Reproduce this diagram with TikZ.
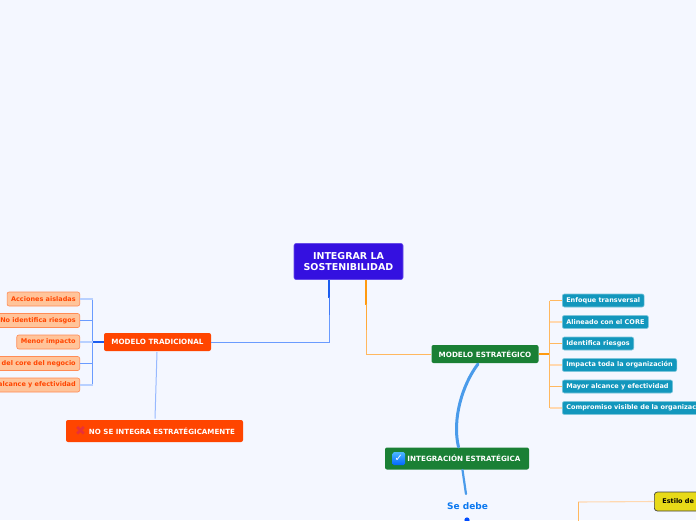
\documentclass[tikz,border=0pt]{standalone}
\usepackage{fontspec}
\setmainfont{DejaVu Sans}
\definecolor{bgc}{HTML}{F4F7FF}
\definecolor{rootc}{HTML}{3410E0}
\definecolor{redc}{HTML}{FF4500}
\definecolor{greenc}{HTML}{1A8035}
\definecolor{tealc}{HTML}{1297BD}
\definecolor{peach}{HTML}{FFC49A}
\definecolor{blued}{HTML}{1A5CF0}
\definecolor{bluem}{HTML}{6A9BFF}
\definecolor{bluel}{HTML}{B8D0FF}
\definecolor{orgd}{HTML}{FF9A10}
\definecolor{orgm}{HTML}{FFB860}
\definecolor{orgl}{HTML}{FFD8B0}
\definecolor{curvec}{HTML}{4A9BEA}
\definecolor{yel}{HTML}{E8DA18}
\definecolor{sedebe}{HTML}{0A78F0}
\definecolor{xmark}{HTML}{E8303A}
\tikzset{
  x=1pt,y=-1pt,
  txt/.style={font=\bfseries\fontsize{#1}{#1}\selectfont},
  box/.style={rounded corners=2pt,inner sep=0pt,minimum height=#1},
  rootbox/.style={box=36pt,fill=rootc,draw=rootc!75!white,line width=.6pt,text=white,minimum width=109pt,align=center,font=\bfseries\fontsize{9.5}{11.5}\selectfont},
  mainred/.style={box=18pt,fill=redc,text=white,txt=7.2},
  maingreen/.style={box=18pt,fill=greenc,text=white,txt=7.2},
  leftleaf/.style={box=14pt,fill=peach,draw=redc!45!peach,line width=.6pt,text=redc,txt=6.5,anchor=east,inner xsep=4pt},
  rightleaf/.style={box=13pt,fill=tealc,draw=tealc!55!white,line width=.6pt,text=white,txt=6.5,anchor=west,inner xsep=4pt},
  linkm/.style={line width=.8pt,draw=#1},
  linkd/.style={line width=1.1pt,draw=#1},
  wide/.style={line width=#1,draw=curvec,line cap=round}
}
\begin{document}
\begin{tikzpicture}
\clip (0,0) rectangle (696,520);
\fill[bgc] (0,0) rectangle (696,520);
% nodes
\node[rootbox] (root) at (348.5,261.5) {INTEGRAR LA\\SOSTENIBILIDAD};
\node[mainred,minimum width=107pt] (mt) at (157.5,342) {MODELO TRADICIONAL};
\node[maingreen,minimum width=107pt] (me) at (485,354) {MODELO ESTRATÉGICO};
\node[box=22pt,fill=redc,text=white,txt=7.1,minimum width=177pt] (ns) at (154.5,431) {\hspace{15pt}NO SE INTEGRA ESTRATÉGICAMENTE};
\node[box=22pt,fill=greenc,text=white,txt=7.2,minimum width=144pt] (ie) at (457,458.5) {\hspace{14pt}INTEGRACIÓN ESTRATÉGICA};
\node[text=sedebe,txt=9,inner sep=0pt] (sd) at (467.5,506) {Se debe};
% left leaves
\node[leftleaf] (l1) at (80,299) {Acciones aisladas};
\node[leftleaf] (l2) at (80,320.5) {No identifica riesgos};
\node[leftleaf] (l3) at (80,342) {Menor impacto};
\node[leftleaf] (l4) at (80,363.5) {\hspace{10pt}del core del negocio};
\node[leftleaf] (l5) at (80,385) {alcance y efectividad};
% right leaves
\node[rightleaf] (r1) at (562,300.5) {Enfoque transversal};
\node[rightleaf] (r2) at (562,322) {Alineado con el CORE};
\node[rightleaf] (r3) at (562,343.5) {Identifica riesgos};
\node[rightleaf] (r4) at (562,365) {Impacta toda la organización};
\node[rightleaf] (r5) at (562,386.5) {Mayor alcance y efectividad};
\node[rightleaf] (r6) at (562,408) {Compromiso visible de la organizac\hspace{20pt}};
\node[box=19pt,rounded corners=3pt,fill=yel,draw=black!75,line width=.7pt,text=black,txt=6.5,anchor=west,inner xsep=8pt] (ye) at (654,501.5) {Estilo de l\hspace{20pt}};
% icons
\node[text=xmark,font=\fontsize{13}{13}\selectfont,inner sep=0pt] (ix) at (80.5,431) {✖};
\shade[top color=cyan!60!blue!70!white,bottom color=blue!60!cyan,rounded corners=1.5pt] (392.5,452) rectangle (405,465);
\node[text=white,font=\bfseries\fontsize{10}{10}\selectfont,inner sep=0pt] (ic) at (398.7,458) {✓};
% connectors
\coordinate (rl) at (329,279.5);
\coordinate (rr) at (366,279.5);
\draw[linkm=bluem] (rl) |- (mt.east);
\draw[linkd=blued] (rl) -- ++(0,18);
\draw[line width=1pt,draw=blued!50!bluem] (329,297) -- (329,315);
\draw[linkm=orgm] (rr) |- (me.west);
\draw[linkd=orgd] (rr) -- ++(0,25);
\draw[line width=1pt,draw=orgd!50!orgm] (366,304) -- (366,330);
\draw[linkd=blued] (mt.west) -- ++(-11,0) coordinate (tl);
\draw[linkm=bluem] (tl |- l1) -- (tl |- l5);
\foreach \n in {l1,l3,l5}{\draw[linkd=bluel] (\n.east) -- (tl |- \n);}
\foreach \n in {l2,l4}{\draw[linkm=bluem] (\n.east) -- (tl |- \n);}
\draw[linkd=orgd] (me.east) -- ++(11,0) coordinate (tr);
\draw[linkm=orgm] (tr |- r1) -- (tr |- r6);
\foreach \n in {r1,r3,r5}{\draw[linkm=orgm] (\n.west) -- (tr |- \n);}
\foreach \n in {r2,r4,r6}{\draw[linkd=orgl] (\n.west) -- (tr |- \n);}
\coordinate (ns0) at (155,418.5);
\coordinate (mt0) at (157,352);
\draw[line width=1pt,draw=bluem!70!white] (mt0) -- (ns0);
\coordinate (me0) at (478,364);
\coordinate (ie0) at (458.5,447);
\coordinate (ie1) at (462.5,470);
\coordinate (sd0) at (466,494);
\draw[wide=3pt] (me0) .. controls (462,385) and (452,420) .. (ie0);
\draw[wide=2.2pt] (ie1) -- (sd0);
\coordinate (dot) at (467,520);
\fill[blue!70!cyan] (dot) circle (2.6pt);
\coordinate (yt) at (578,502);
\draw[linkd=orgl] (ye.west) -- (yt);
\draw[linkm=orgm] (yt) -- (578,521);
\end{tikzpicture}
\end{document}
